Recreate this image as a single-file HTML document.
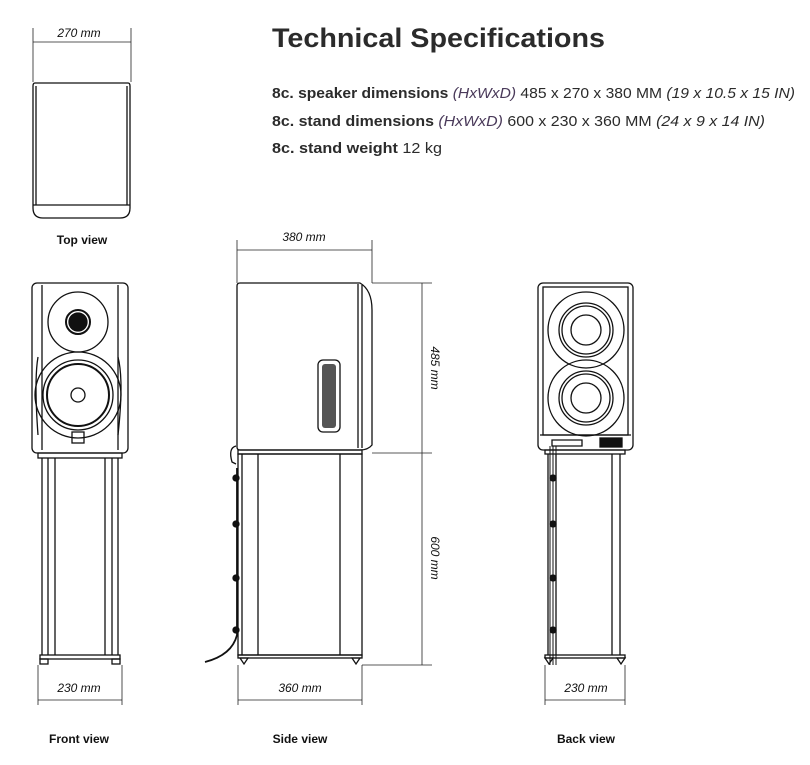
<!DOCTYPE html>
<html><head><meta charset="utf-8"><style>
html,body{margin:0;padding:0;background:#fff;}
svg{display:block;font-family:"Liberation Sans",sans-serif;}
</style></head><body>
<svg width="810" height="765" viewBox="0 0 810 765" xmlns="http://www.w3.org/2000/svg">
<g fill="#2b2b2b">
<text x="272" y="47" font-size="27" font-weight="bold" textLength="333" lengthAdjust="spacingAndGlyphs">Technical Specifications</text>
<text x="272" y="98" font-size="15" textLength="523" lengthAdjust="spacingAndGlyphs"><tspan font-weight="bold">8c. speaker dimensions</tspan> <tspan font-style="italic" fill="#4a3a5a">(HxWxD)</tspan> 485 x 270 x 380 MM <tspan font-style="italic">(19 x 10.5 x 15 IN)</tspan></text>
<text x="272" y="126" font-size="15" textLength="493" lengthAdjust="spacingAndGlyphs"><tspan font-weight="bold">8c. stand dimensions</tspan> <tspan font-style="italic" fill="#4a3a5a">(HxWxD)</tspan> 600 x 230 x 360 MM <tspan font-style="italic">(24 x 9 x 14 IN)</tspan></text>
<text x="272" y="153" font-size="15" textLength="170" lengthAdjust="spacingAndGlyphs"><tspan font-weight="bold">8c. stand weight</tspan> 12 kg</text>
</g>
<g fill="#111" font-size="12" font-style="italic" text-anchor="middle">
<text x="79" y="37">270 mm</text>
<text x="304" y="241">380 mm</text>
<text x="79" y="692">230 mm</text>
<text x="300" y="692">360 mm</text>
<text x="586" y="692">230 mm</text>
<text transform="translate(431,368) rotate(90)">485 mm</text>
<text transform="translate(431,558) rotate(90)">600 mm</text>
</g>
<g fill="#111" font-size="12" font-weight="bold" text-anchor="middle">
<text x="82" y="244">Top view</text>
<text x="79" y="743">Front view</text>
<text x="300" y="743">Side view</text>
<text x="586" y="743">Back view</text>
</g>
<g stroke="#222" stroke-width="0.8" fill="none">
<!-- dims -->
<line x1="33" y1="42" x2="131" y2="42"/><line x1="33" y1="28" x2="33" y2="82"/><line x1="131" y1="28" x2="131" y2="82"/>
<line x1="237" y1="250" x2="372" y2="250"/><line x1="237" y1="240" x2="237" y2="283"/><line x1="372" y1="240" x2="372" y2="283"/>
<line x1="372" y1="283" x2="432" y2="283"/><line x1="372" y1="453" x2="432" y2="453"/><line x1="362" y1="665" x2="432" y2="665"/>
<line x1="422" y1="283" x2="422" y2="665"/>
<line x1="38" y1="665" x2="38" y2="705"/><line x1="122" y1="665" x2="122" y2="705"/><line x1="38" y1="700" x2="122" y2="700"/>
<line x1="238" y1="665" x2="238" y2="705"/><line x1="362" y1="665" x2="362" y2="705"/><line x1="238" y1="700" x2="362" y2="700"/>
<line x1="545" y1="665" x2="545" y2="705"/><line x1="625" y1="665" x2="625" y2="705"/><line x1="545" y1="700" x2="625" y2="700"/>
</g>
<g stroke="#111" stroke-width="1.3" fill="none">
<!-- top view -->
<path d="M35 83 H128 Q130 83 130 86 V208 Q130 218 120 218 H43 Q33 218 33 208 V86 Q33 83 35 83 Z"/>
<line x1="33" y1="205" x2="130" y2="205"/><line x1="36" y1="86" x2="36" y2="205"/><line x1="127" y1="86" x2="127" y2="205"/>
<!-- front view -->
<rect x="32" y="283" width="96" height="170" rx="5"/>
<line x1="42" y1="285" x2="42" y2="450"/><line x1="118" y1="285" x2="118" y2="450"/>
<circle cx="78" cy="322" r="30"/>
<circle cx="78" cy="322" r="12" stroke-width="2"/>
<circle cx="78" cy="322" r="9" fill="#111"/>
<circle cx="78" cy="395" r="43"/>
<circle cx="78" cy="395" r="35"/>
<circle cx="78" cy="395" r="31" stroke-width="2"/>
<circle cx="78" cy="395" r="7"/>
<rect x="72" y="432" width="12" height="11"/>
<path d="M38 357 Q34 380 38 435"/><path d="M118 357 Q124 380 118 435"/>
<rect x="38" y="453" width="84" height="5"/>
<line x1="42" y1="458" x2="42" y2="655"/><line x1="48" y1="458" x2="48" y2="655"/>
<line x1="55" y1="458" x2="55" y2="655"/><line x1="105" y1="458" x2="105" y2="655"/>
<line x1="112" y1="458" x2="112" y2="655"/><line x1="118" y1="458" x2="118" y2="655"/>
<rect x="40" y="655" width="80" height="4"/>
<rect x="40" y="659" width="8" height="5"/><rect x="112" y="659" width="8" height="5"/>
<!-- side view -->
<path d="M240 283 H360 Q372 290 372 310 V445 Q368 450 360 450 H240 Q237 450 237 447 V286 Q237 283 240 283 Z"/>
<line x1="358" y1="284" x2="358" y2="448"/><line x1="362" y1="285" x2="362" y2="448"/>
<rect x="318" y="360" width="22" height="72" rx="5"/>
<rect x="322" y="364" width="14" height="64" rx="3" fill="#555" stroke="none"/>
<rect x="238" y="450" width="124" height="4"/>
<rect x="238" y="454" width="124" height="201"/>
<line x1="242" y1="454" x2="242" y2="655"/>
<line x1="258" y1="454" x2="258" y2="655"/><line x1="340" y1="454" x2="340" y2="655"/>
<rect x="238" y="655" width="124" height="3"/>
<path d="M240 658 h8 l-4 6 Z"/><path d="M352 658 h8 l-4 6 Z"/>
<path d="M236 446 Q228 448 232 462 L236 464" />
<path d="M237 468 V635 Q232 655 205 662" stroke-width="1.8"/>
<g fill="#111"><circle cx="236" cy="478" r="3"/><circle cx="236" cy="524" r="3"/><circle cx="236" cy="578" r="3"/><circle cx="236" cy="630" r="3"/></g>
<!-- back view -->
<rect x="538" y="283" width="95" height="167" rx="5"/>
<line x1="540" y1="435" x2="631" y2="435"/>
<rect x="543" y="287" width="85" height="148"/>
<circle cx="586" cy="330" r="38"/><circle cx="586" cy="330" r="27"/><circle cx="586" cy="330" r="24"/><circle cx="586" cy="330" r="15"/>
<circle cx="586" cy="398" r="38"/><circle cx="586" cy="398" r="27"/><circle cx="586" cy="398" r="24"/><circle cx="586" cy="398" r="15"/>
<rect x="600" y="438" width="22" height="9" fill="#111"/>
<path d="M552 440 h30 v6 h-30 Z"/>
<rect x="545" y="450" width="80" height="4"/>
<line x1="548" y1="454" x2="548" y2="655"/><line x1="556" y1="454" x2="556" y2="655"/>
<line x1="612" y1="454" x2="612" y2="655"/><line x1="620" y1="454" x2="620" y2="655"/>
<path d="M550 446 V665 M553 446 V665 M556 446 V665" stroke-width="1"/>
<g fill="#111"><circle cx="553" cy="478" r="3"/><circle cx="553" cy="524" r="3"/><circle cx="553" cy="578" r="3"/><circle cx="553" cy="630" r="3"/></g>
<rect x="545" y="655" width="80" height="3"/>
<path d="M545 658 h8 l-4 6 Z"/><path d="M617 658 h8 l-4 6 Z"/>
</g>
</svg>
</body></html>
